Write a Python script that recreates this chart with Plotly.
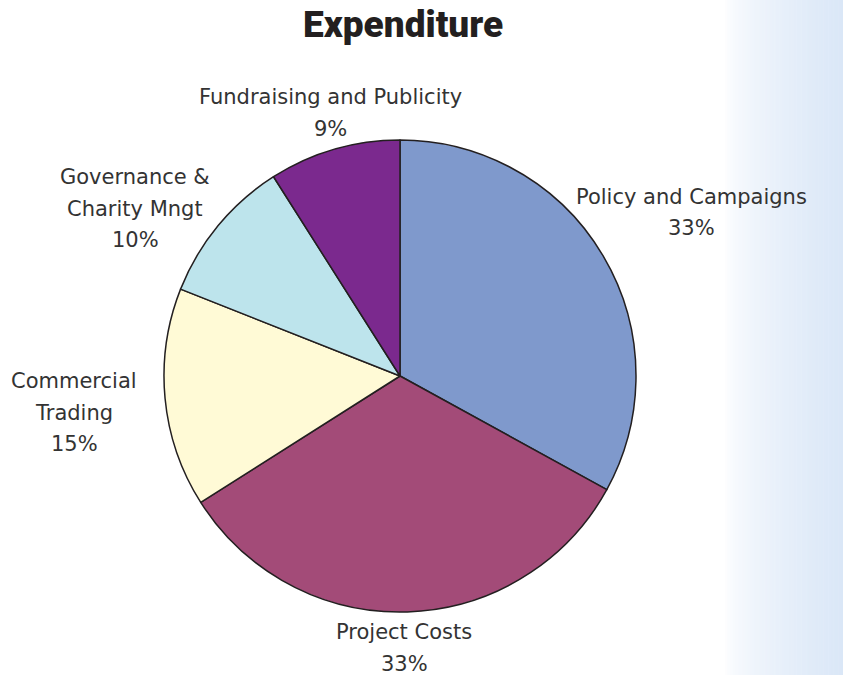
import plotly.graph_objects as go

categories = ["Policy and Campaigns", "Project Costs", "Commercial Trading",
              "Governance & Charity Mngt", "Fundraising and Publicity"]
label_lines = [["Policy and Campaigns"], ["Project Costs"], ["Commercial", "Trading"],
               ["Governance &", "Charity Mngt"], ["Fundraising and Publicity"]]
values = [33, 33, 15, 10, 9]
colors = ["#7F99CC", "#A34B78", "#FFFAD6", "#BDE4EC", "#7B298E"]

W, H = 843, 675
cx, cy, r = 400, 376, 236

fig = go.Figure()
fig.add_trace(go.Pie(
    labels=categories, values=values, sort=False, direction="clockwise",
    rotation=0, marker=dict(colors=colors, line=dict(color="#231F20", width=1.5)),
    textinfo="none", hoverinfo="label+percent", showlegend=False,
    domain=dict(x=[(cx - r) / W, (cx + r) / W], y=[1 - (cy + r) / H, 1 - (cy - r) / H]),
))

# label positions (pixels: center x, first-line center y)
label_pos = [(691, 197), (404, 632), (74, 381), (135, 177), (330, 97)]
line_gap = 31.5
total = sum(values)
annotations = []
for lines, v, (x, y) in zip(label_lines, values, label_pos):
    all_lines = lines + [f"{round(100 * v / total)}%"]
    for k, txt in enumerate(all_lines):
        annotations.append(dict(
            x=x / W, y=1 - (y + k * line_gap) / H, xref="paper", yref="paper",
            showarrow=False, text=txt, xanchor="center", yanchor="middle",
            height=22, borderpad=0,
            font=dict(family="DejaVu Sans", size=21, color="#333333"),
        ))
annotations.append(dict(
    x=403 / W, y=1 - 25 / H, xref="paper", yref="paper", showarrow=False,
    text="Expenditure", xanchor="center", yanchor="middle",
    font=dict(family="Roboto", size=37, color="#231F20", weight=900),
))

# right-side gradient panel
shapes = []
x0, x1 = 725, 843
n = 48
c0 = (255, 255, 255)
c1 = (218, 231, 247)
for i in range(n):
    t = (i + 0.5) / n
    t2 = min(1.0, t ** 0.6)
    col = tuple(int(round(a + (b - a) * t2)) for a, b in zip(c0, c1))
    xa = x0 + (x1 - x0) * i / n
    xb = x0 + (x1 - x0) * (i + 1) / n + 0.5
    shapes.append(dict(type="rect", xref="paper", yref="paper",
                       x0=xa / W, x1=min(xb, W) / W, y0=0, y1=1,
                       fillcolor=f"rgb{col}", line=dict(width=0), layer="below"))

fig.update_layout(
    width=W, height=H, margin=dict(l=0, r=0, t=0, b=0),
    paper_bgcolor="white", plot_bgcolor="white",
    annotations=annotations, shapes=shapes,
)
fig.write_html("out.html")
